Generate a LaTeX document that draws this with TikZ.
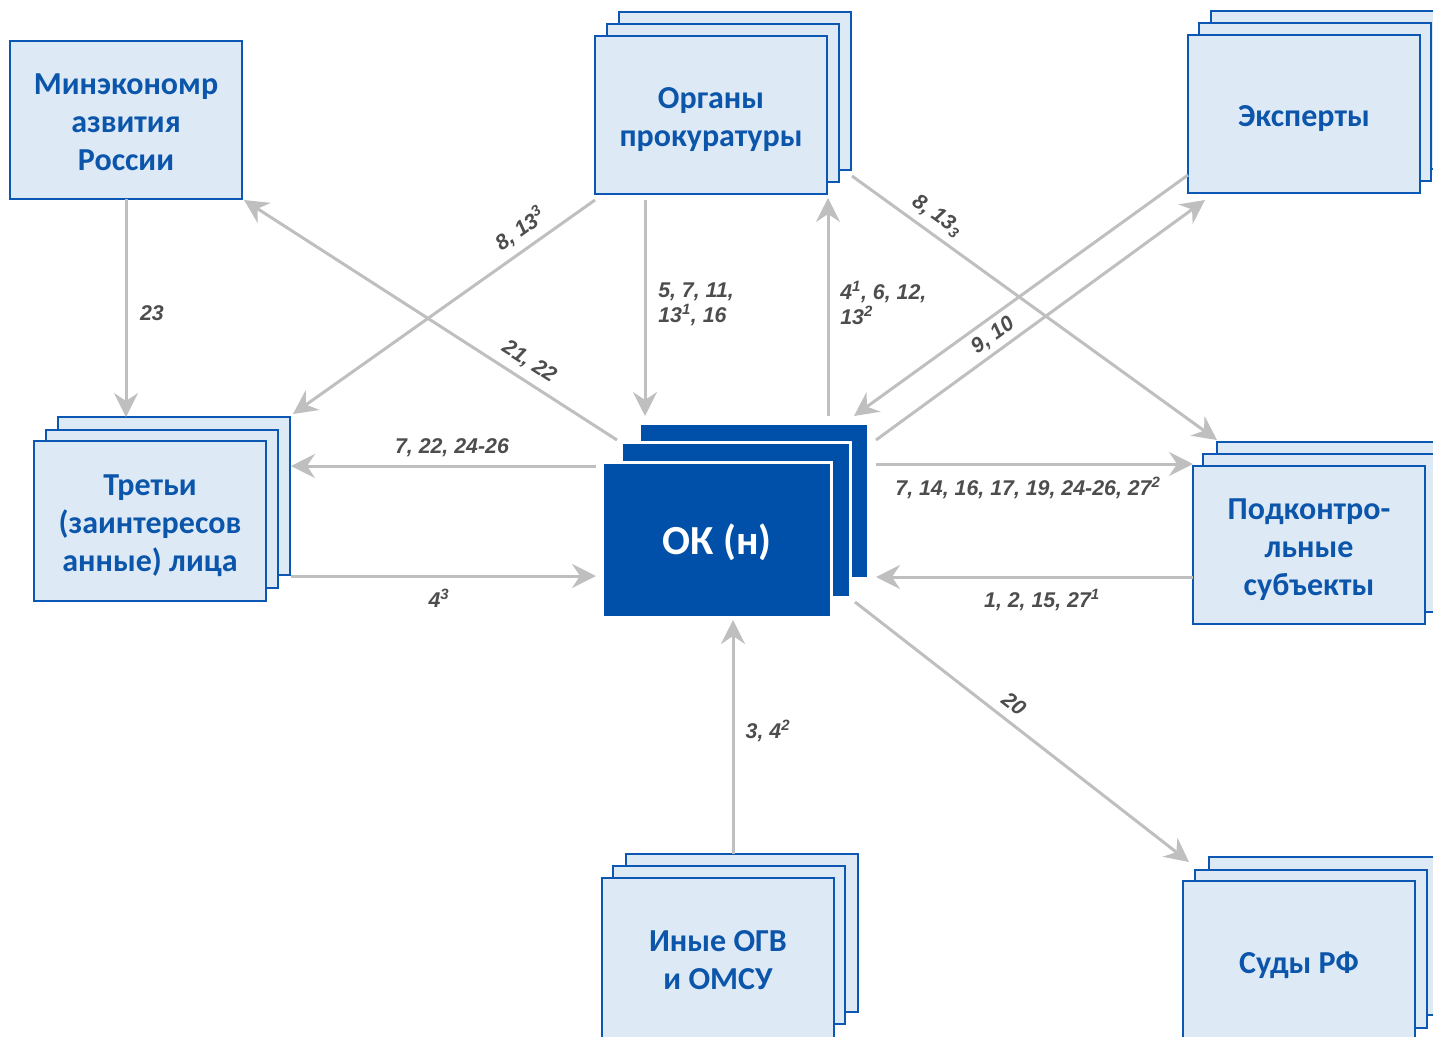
\documentclass[tikz,border=0pt]{standalone}
\usepackage{fontspec}
\newfontfamily\boxfont{Carlito}
\newfontfamily\lblfont{Liberation Sans}
\usetikzlibrary{arrows.meta,calc}
\definecolor{bfill}{HTML}{DEE9F6}
\definecolor{bdr}{HTML}{0B57B3}
\definecolor{okfill}{HTML}{0050AA}
\definecolor{btext}{HTML}{0B55AA}
\definecolor{conn}{HTML}{BFBFBF}
\definecolor{lbl}{HTML}{4D4D4D}
\newcommand\cardstrut{\rule[-0.19em]{0pt}{1.18em}}
\newcommand\okstrut{\rule[-0.27em]{0pt}{1.25em}}
\begin{document}
\begin{tikzpicture}[x=0.75pt,y=-0.75pt,
  card/.style={draw=bdr, fill=bfill, line width=2pt, minimum width=174pt, minimum height=118.5pt,
    inner sep=0pt, outer sep=0pt, align=center,
    font=\boxfont\bfseries\fontsize{24}{28.5}\selectfont, text=btext},
  okcard/.style={draw=white, fill=okfill, line width=2.25pt, minimum width=171.75pt, minimum height=116.25pt,
    inner sep=0pt, outer sep=0pt, font=\boxfont\bfseries\fontsize{31}{36}\selectfont, text=white},
  arr/.style={draw=conn, line width=2.25pt, -{Stealth[length=18pt,width=18pt,inset=6pt]}},
  lab/.style={text=lbl, font=\lblfont\bfseries\itshape\fontsize{16}{19}\selectfont, inner sep=0pt}
]
\useasboundingbox (0,0) rectangle (1433,1036);
\clip (0,0) rectangle (1433,1036);

% single box
\node[card] (mine) at (126,120) {\cardstrut Минэкономр\\\cardstrut азвития\\\cardstrut России};

% prosecutors
\node[card] (org3) at (735,91) {};
\node[card] (org2) at (723,103) {};
\node[card] (org1) at (711,115) {\cardstrut Органы\\\cardstrut прокуратуры};

% experts
\node[card] (exp3) at (1327,90) {};
\node[card] (exp2) at (1315,102) {};
\node[card] (exp1) at (1304,114) {\cardstrut Эксперты};

% third parties
\node[card] (tre3) at (174,496) {};
\node[card] (tre2) at (162,509) {};
\node[card, minimum height=120pt] (tre1) at (150,521) {\cardstrut Третьи\\\cardstrut (заинтересов\\\cardstrut анные) лица};

% controlled subjects
\node[card] (pod3) at (1333,521) {};
\node[card] (pod2) at (1319,533) {};
\node[card] (pod1) at (1309,545) {\cardstrut Подконтро-\\\cardstrut льные\\\cardstrut субъекты};

% other bodies
\node[card] (ino3) at (742,933) {};
\node[card] (ino2) at (729,945) {};
\node[card, minimum height=120pt] (ino1) at (718,958) {\cardstrut Иные ОГВ\\\cardstrut и ОМСУ};

% courts
\node[card] (sud3) at (1325,936) {};
\node[card] (sud2) at (1311,949) {};
\node[card, minimum height=120pt] (sud1) at (1299,961) {\cardstrut Суды РФ};

% central
\node[okcard] (ok3) at (754,501) {};
\node[okcard] (ok2) at (736,520) {};
\node[okcard] (ok1) at (717,540) {\okstrut ОК (н)};

% free ends
\coordinate (okNW) at (617,440);
\coordinate (orgSW) at (595,200);
\coordinate (treNE) at (293,414);
\coordinate (orgB) at (645,200);
\coordinate (okB) at (645,416);
\coordinate (okC) at (828,416);
\coordinate (orgC) at (828,198);
\coordinate (orgD) at (852,176);
\coordinate (podA) at (1217,440);
\coordinate (expA) at (1188,175);
\coordinate (okD) at (854,416);
\coordinate (okE) at (876,440);
\coordinate (expB) at (1205,200);
\coordinate (okF) at (596,466);
\coordinate (treF) at (291,466);
\coordinate (treG) at (291,576);
\coordinate (okG) at (596,576);
\coordinate (okH) at (876,464);
\coordinate (podH) at (1193,464);
\coordinate (podI) at (1193,577);
\coordinate (okI) at (876,577);
\coordinate (okJ) at (855,602);
\coordinate (sudJ) at (1189,862);
\coordinate (okK) at (733,620);

% connectors
\draw[arr] (mine.south) -- (mine.south |- tre3.north);
\draw[arr] (okNW) -- ($(mine.south east)+(2,1)$);
\draw[arr] (orgSW) -- (treNE);
\draw[arr] (orgB) -- (okB);
\draw[arr] (okC) -- (orgC);
\draw[arr] (orgD) -- (podA);
\draw[arr] (expA) -- (okD);
\draw[arr] (okE) -- (expB);
\draw[arr] (okF) -- (treF);
\draw[arr] (treG) -- (okG);
\draw[arr] (okH) -- (podH);
\draw[arr] (podI) -- (okI);
\draw[arr] (okJ) -- (sudJ);
\draw[arr] (ino3.north -| okK) -- (okK);

% labels
\node[lab] (l23) at (152,313) {23};
\node[lab, rotate=-32.5] (l2122) at (529,362) {21, 22};
\node[lab, rotate=35.6] (l813a) at (520,229) {8, 13\textsuperscript{3}};
\node[lab, anchor=west, align=left] (l5711) at (658,304) {5, 7, 11,\\13\textsuperscript{1}, 16};
\node[lab, anchor=west, align=left] (l4612) at (840,303) {4\textsuperscript{1}, 6, 12,\\13\textsuperscript{2}};
\node[lab, rotate=-35.8] (l813b) at (937,216) {8, 13\textsubscript{3}};
\node[lab, rotate=36] (l910) at (993,336) {9, 10};
\node[lab] (l722) at (452,448) {7, 22, 24-26};
\node[lab] (l43) at (439,598) {4\textsuperscript{3}};
\node[lab] (l714) at (1028,488) {7, 14, 16, 17, 19, 24-26, 27\textsuperscript{2}};
\node[lab] (l12) at (1042,600) {1, 2, 15, 27\textsuperscript{1}};
\node[lab, rotate=-37.8] (l20) at (1014,704) {20};
\node[lab] (l34) at (768,731) {3, 4\textsuperscript{2}};
\end{tikzpicture}
\end{document}
